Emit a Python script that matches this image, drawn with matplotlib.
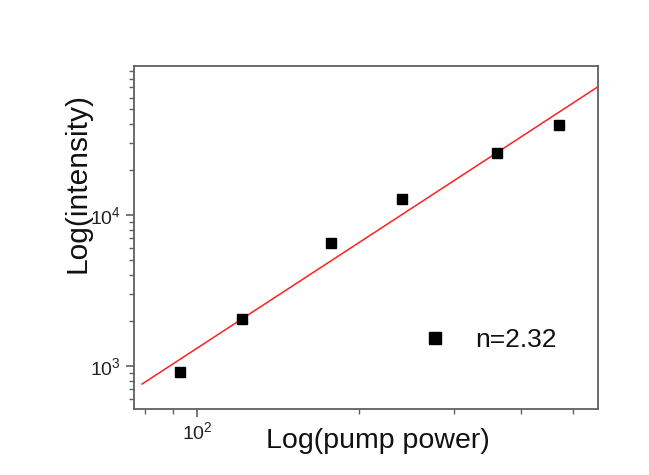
import matplotlib
matplotlib.use("Agg")
import matplotlib.pyplot as plt
import numpy as np
from matplotlib.ticker import LogLocator, NullFormatter

plt.rcParams['font.family'] = ['Liberation Sans', 'DejaVu Sans']
plt.rcParams['mathtext.fontset'] = 'custom'
plt.rcParams['mathtext.rm'] = 'Liberation Sans'
plt.rcParams['mathtext.it'] = 'Liberation Sans:italic'
plt.rcParams['mathtext.bf'] = 'Liberation Sans:bold'

# Data
pump_power = [92.8, 121, 177, 240, 361, 472]
intensity = [908, 2037, 6494, 12820, 25850, 39450]

# Power-law fit: log10(I) = n*log10(P) + b
n_fit = 2.32
b_fit = -1.5207
fit_range = [78.9, 557]
legend_label = "n=2.32"

xlim = (76.1, 557)
ylim = (519, 97000)

fig = plt.figure(figsize=(6.49, 4.75), dpi=100)
ax = fig.add_axes([0.206, 0.139, 0.7154, 0.722])

fx = np.logspace(np.log10(fit_range[0]), np.log10(fit_range[1]), 50)
fy = 10 ** (n_fit * np.log10(fx) + b_fit)
ax.plot(fx, fy, color='#ff2020', lw=1.1, zorder=2)
ax.plot(pump_power, intensity, 's', color='black', ms=7.5, zorder=3,
        label=legend_label, linestyle='none')

ax.set_xscale('log')
ax.set_yscale('log')
ax.set_xlim(*xlim)
ax.set_ylim(*ylim)

ax.xaxis.set_major_locator(LogLocator(base=10, numticks=10))
ax.xaxis.set_minor_locator(LogLocator(base=10, subs=np.arange(2, 10), numticks=10))
ax.xaxis.set_minor_formatter(NullFormatter())
ax.yaxis.set_major_locator(LogLocator(base=10, numticks=10))
ax.yaxis.set_minor_locator(LogLocator(base=10, subs=np.arange(2, 10), numticks=10))
ax.yaxis.set_minor_formatter(NullFormatter())

spine_color = '#606060'
for s in ax.spines.values():
    s.set_color(spine_color)
    s.set_linewidth(1.3)

ax.tick_params(which='major', direction='out', length=6, width=1.2, color=spine_color,
               labelsize=14, pad=3, top=False, right=False, labelcolor='#222222')
ax.tick_params(which='minor', direction='out', length=3.5, width=1.0, color=spine_color,
               top=False, right=False)

ax.set_xlabel('Log(pump power)', fontsize=20.5, color='#111111')
ax.set_ylabel('Log(intensity)', fontsize=21.5, color='#111111')
ax.xaxis.set_label_coords(0.526, -0.055)
ax.yaxis.set_label_coords(-0.09, 0.658)

leg = ax.legend(loc='center left', bbox_to_anchor=(0.621, 0.201), frameon=False,
                fontsize=19, handlelength=1.0, handletextpad=1.0, borderpad=0,
                borderaxespad=0, markerscale=1.2)
for t in leg.get_texts():
    t.set_color('#111111')

fig.savefig('out.png', dpi=100)
